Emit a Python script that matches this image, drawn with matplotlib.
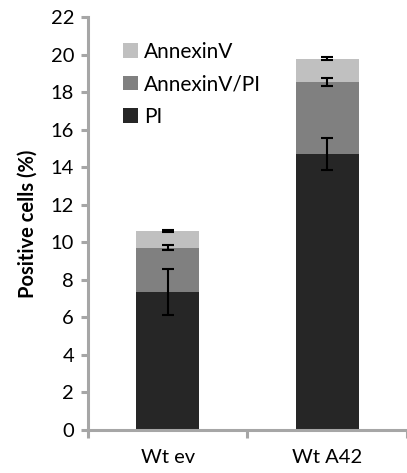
import numpy as np
import matplotlib.pyplot as plt

categories = ["Wt ev", "Wt A42"]
pi = [7.35, 14.68]
annexin_pi = [2.37, 3.86]
annexin = [0.88, 1.25]
pi_err = [1.25, 0.85]
annexin_pi_err = [0.14, 0.2]
annexin_err = [0.03, 0.06]

plt.rcParams['font.family'] = ['Lato', 'DejaVu Sans']

fig = plt.figure(figsize=(4.07, 4.73), dpi=100)
ax = fig.add_axes([0.216, 0.091, 0.784, 0.873])

x = np.arange(len(categories))
w = 0.395
c_pi, c_apl, c_a = "#262626", "#808080", "#c0c0c0"

b1 = ax.bar(x, pi, w, color=c_pi, label="PI", zorder=2)
b2 = ax.bar(x, annexin_pi, w, bottom=pi, color=c_apl, label="AnnexinV/PI", zorder=2)
top2 = np.array(pi) + np.array(annexin_pi)
b3 = ax.bar(x, annexin, w, bottom=top2, color=c_a, label="AnnexinV", zorder=2)
top3 = top2 + np.array(annexin)

ekw = dict(fmt="none", ecolor="black", elinewidth=1.5, capsize=4.3, capthick=1.5, zorder=3)
ax.errorbar(x, pi, yerr=pi_err, **ekw)
ax.errorbar(x, top2, yerr=annexin_pi_err, **ekw)
ax.errorbar(x, top3, yerr=annexin_err, **ekw)

ax.set_xlim(-0.5, 1.47)
ax.set_ylim(0, 22)
ax.set_yticks(range(0, 23, 2))
ax.set_xticks(x)
ax.set_xticklabels(categories)
ax.set_xticks([-0.5, 0.5, 1.5], minor=True)

spine_c = "#a6a6a6"
for s in ["top", "right"]:
    ax.spines[s].set_visible(False)
for s in ["left", "bottom"]:
    ax.spines[s].set_color(spine_c)
    ax.spines[s].set_linewidth(2.2)

ax.tick_params(axis="y", direction="out", length=5, width=2.2, color=spine_c, labelsize=14.5, pad=5)
ax.tick_params(axis="x", which="major", length=0, labelsize=14.5, pad=14)
ax.tick_params(axis="x", which="minor", direction="out", length=6, width=2.2, color=spine_c)

ax.set_ylabel("Positive cells (%)", fontsize=14.5, fontweight="bold", labelpad=9)

handles = [b3, b2, b1]
ax.legend(handles, [h.get_label() for h in handles], loc="upper left", bbox_to_anchor=(0.085, 0.96),
          frameon=False, fontsize=15, handlelength=0.7, handleheight=0.7, handletextpad=0.3,
          labelspacing=0.6, borderaxespad=0)

fig.savefig("out.png", dpi=100)
